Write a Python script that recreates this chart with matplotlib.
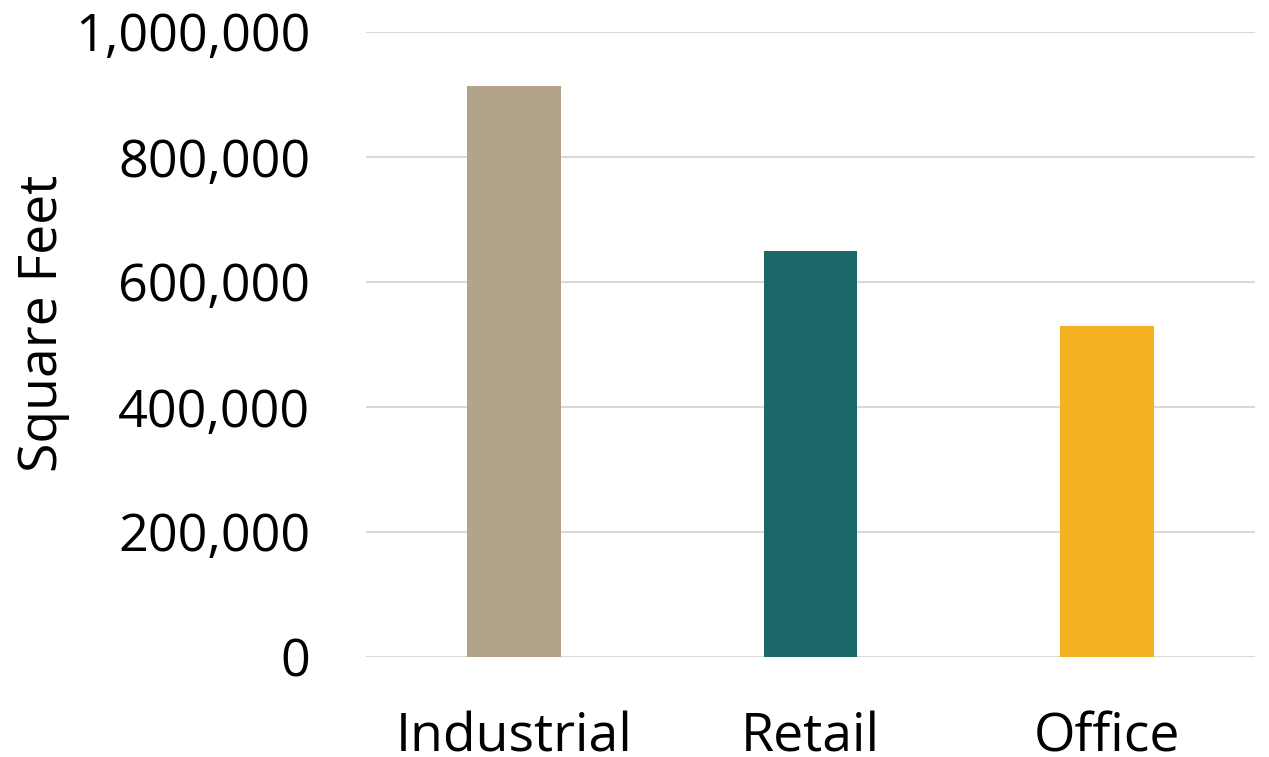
import matplotlib
matplotlib.use("Agg")
import matplotlib.pyplot as plt
from matplotlib.ticker import FuncFormatter

categories = ["Industrial", "Retail", "Office"]
values = [913000, 650000, 530000]
colors = ["#B3A38A", "#1C6868", "#F4B223"]
yticks = [0, 200000, 400000, 600000, 800000, 1000000]

plt.rcParams['font.family'] = ['Open Sans', 'DejaVu Sans']

fig = plt.figure(figsize=(12.69, 7.57), dpi=100)
ax = fig.add_axes([366/1269, 1 - 657/757, (1255-366)/1269, (657-32)/757])

x = range(len(categories))
ax.bar(x, values, width=0.317, color=colors, zorder=3)
ax.set_xlim(-0.5, 2.5)
ax.set_ylim(0, 1000000)
ax.set_yticks(yticks)
ax.yaxis.set_major_formatter(FuncFormatter(lambda v, p: f"{int(v):,}"))
ax.set_xticks(list(x))
ax.set_xticklabels(categories)
ax.tick_params(axis='both', length=0, colors='black')
ax.tick_params(axis='y', pad=40, labelsize=37.5)
ax.tick_params(axis='x', pad=39, labelsize=38.5)
ax.grid(axis='y', color='#D9D9D9', linewidth=1.5, zorder=0)
for s in ax.spines.values():
    s.set_visible(False)
fig.text(43/1269, 1 - 323/757, "Square Feet", rotation=90, fontsize=38.5,
         ha='center', va='center')

fig.savefig("out.png", dpi=100)
